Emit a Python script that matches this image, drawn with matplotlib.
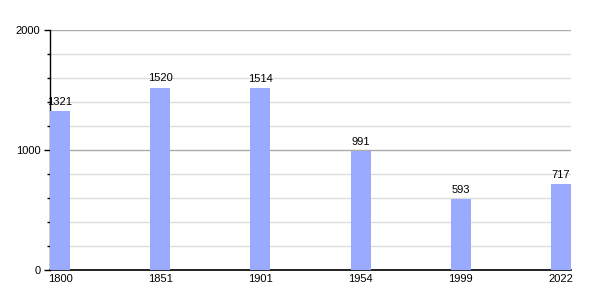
import numpy as np
import matplotlib.pyplot as plt
from matplotlib.ticker import MultipleLocator

years = ["1800", "1851", "1901", "1954", "1999", "2022"]
population = [1321, 1520, 1514, 991, 593, 717]

plt.rcParams['font.family'] = ['Liberation Sans', 'DejaVu Sans']

fig = plt.figure(figsize=(6, 3), dpi=100)
ax = fig.add_axes([50 / 600, 30 / 300, 521 / 600, 240 / 300])

x = np.arange(len(years))
bars = ax.bar(x, population, width=0.2, align="edge", color="#99aaff", zorder=3)
for b, v in zip(bars, population):
    ax.text(b.get_x() + b.get_width() / 2, v + 35, str(v), ha="center", va="bottom",
            fontsize=8, zorder=4)

ax.set_xlim(0, len(years) - 0.8)
ax.set_ylim(0, 2000)
ax.set_xticks(x + 0.1)
ax.set_xticklabels(years, fontsize=8)
ax.tick_params(axis="x", length=0, pad=3)

ax.yaxis.set_major_locator(MultipleLocator(1000))
ax.yaxis.set_minor_locator(MultipleLocator(200))
ax.tick_params(axis="y", which="major", length=4, width=1, labelsize=8, pad=3)
ax.tick_params(axis="y", which="minor", length=2, width=1)
ax.grid(axis="y", which="major", color="#aaaaaa", lw=1, zorder=1)
ax.grid(axis="y", which="minor", color="#dddddd", lw=1, zorder=1)

for s in ("top", "right"):
    ax.spines[s].set_visible(False)
ax.spines["left"].set_linewidth(1)
ax.spines["bottom"].set_linewidth(1.2)

fig.savefig("out.png", dpi=100)
